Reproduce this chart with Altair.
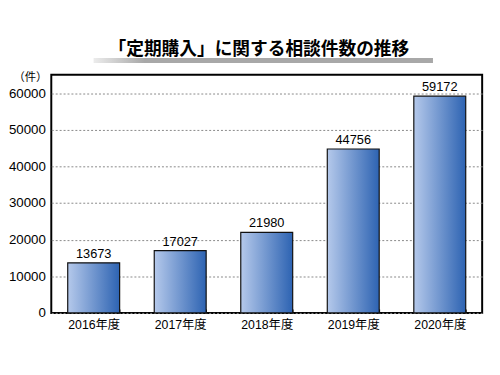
import altair as alt
import pandas as pd

years = ["2016年度", "2017年度", "2018年度", "2019年度", "2020年度"]
counts = [13673, 17027, 21980, 44756, 59172]
y_ticks = [0, 10000, 20000, 30000, 40000, 50000, 60000]
title_text = "「定期購入」に関する相談件数の推移"
unit_text = "（件）"

df = pd.DataFrame({"year": years, "count": counts})

FONT = "Liberation Sans, Noto Sans CJK JP"
CJK = "Noto Sans CJK JP"

grad = alt.LinearGradient(
    gradient="linear", x1=0, x2=1, y1=0, y2=0,
    stops=[alt.GradientStop(color="#b5c9eb", offset=0),
           alt.GradientStop(color="#2d63b2", offset=1)],
)

x = alt.X("year:N", sort=years,
          scale=alt.Scale(paddingInner=0.4, paddingOuter=0.19),
          axis=alt.Axis(title=None, labelAngle=0, domain=False, grid=False,
                        ticks=True, tickBand="extent", tickSize=4, tickColor="black",
                        tickWidth=1.5, offset=-4, labelPadding=6,
                        labelFont=FONT, labelFontSize=12.5, labelColor="black"))
y = alt.Y("count:Q", scale=alt.Scale(domain=[0, 65000], nice=False),
          axis=alt.Axis(title=None, values=y_ticks,
                        format="d", labelFont=FONT, labelFontSize=13.5, labelColor="black",
                        ticks=False, labelPadding=6, domain=False,
                        grid=True, gridDash=[2, 2], gridColor="#888888", gridWidth=1))

base = alt.Chart(df)

bars = base.mark_bar(color=grad, stroke="#111111", strokeWidth=1.2).encode(x=x, y=y)
labels = base.mark_text(dy=-9, baseline="middle", font=FONT, fontSize=13, color="black").encode(
    x=alt.X("year:N", sort=years), y="count:Q", text="count:Q")

one = pd.DataFrame({"k": [0]})
shadow_grad = alt.LinearGradient(
    gradient="linear", x1=0, x2=1, y1=0, y2=0,
    stops=[alt.GradientStop(color="#ececec", offset=0),
           alt.GradientStop(color="#a8a8a8", offset=0.15),
           alt.GradientStop(color="#a8a8a8", offset=1)],
)
shadow = alt.Chart(one).mark_rect(color=shadow_grad).encode(
    x=alt.value(43), x2=alt.value(388), y=alt.value(-17), y2=alt.value(-12))
title = alt.Chart(one).mark_text(font=CJK, fontSize=18, fontWeight="bold", color="black",
                                 baseline="middle", align="center").encode(
    x=alt.value(211), y=alt.value(-25), text=alt.value(title_text))
unit = alt.Chart(one).mark_text(font=CJK, fontSize=11.5, color="black",
                                baseline="middle", align="right").encode(
    x=alt.value(-4), y=alt.value(3), text=alt.value(unit_text))

chart = alt.layer(shadow, title, unit, bars, labels).properties(
    width=438, height=242,
    autosize=alt.AutoSizeParams(type="none"),
    padding={"left": 44, "top": 65, "right": 10, "bottom": 50},
    background="white",
).configure_view(stroke="black", strokeWidth=2)

chart.save("out.html", embed_options={"renderer": "svg", "actions": False})
